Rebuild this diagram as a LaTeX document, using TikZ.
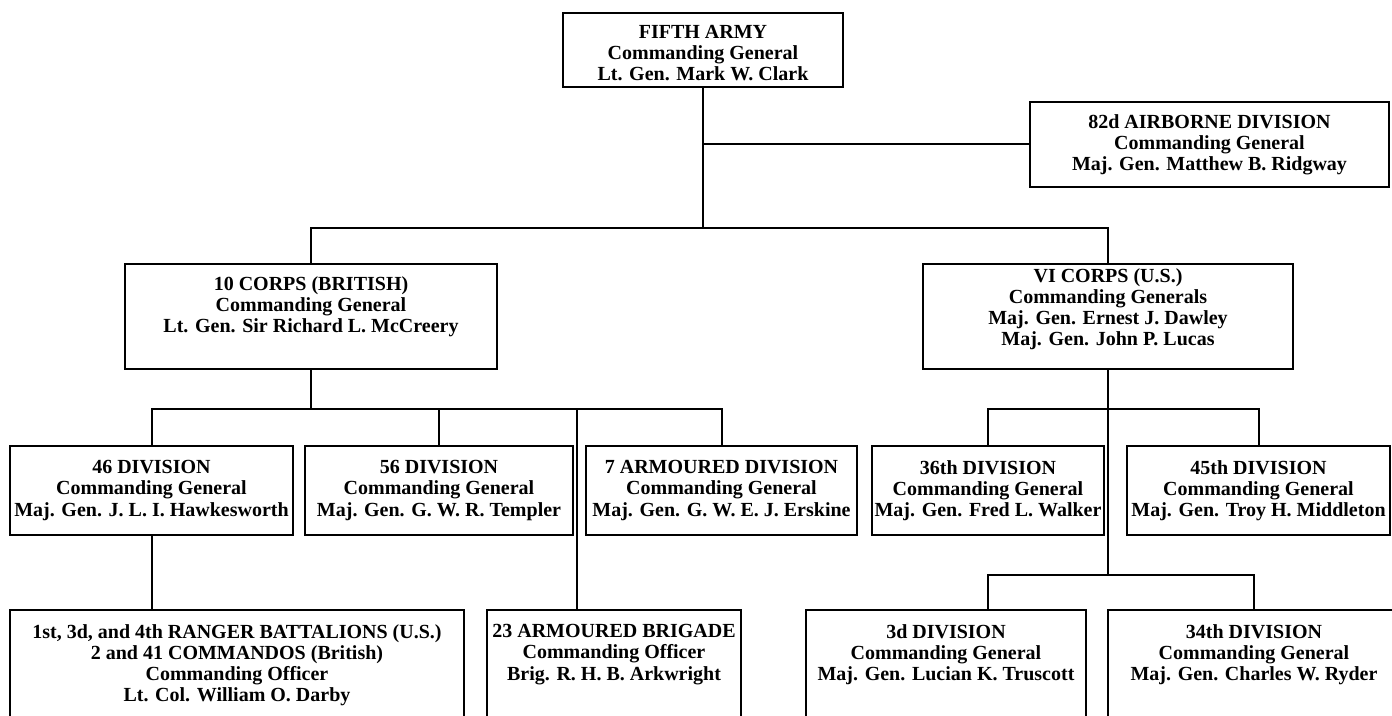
\documentclass[tikz,border=0pt]{standalone}
\usepackage{fontspec}
\setmainfont{Liberation Serif}
\usetikzlibrary{fit}

\tikzset{
  unit/.style={draw, line width=1pt, inner sep=0pt},
  txt/.style={align=center, inner sep=0pt, font=\fontsize{10}{10.6}\selectfont\bfseries},
  link/.style={line width=1pt}
}

\begin{document}
\begin{tikzpicture}[x=0.5pt,y=-0.5pt]
  \useasboundingbox (0,0) rectangle (1392,716);
  \fill[white] (0,0) rectangle (1392,716);
  \clip (0,0) rectangle (1392,716);

  % boxes
  \node[unit, fit={(563,13) (843,87)}] (fifth) {};
  \node[unit, fit={(1030,102) (1389,187)}] (airborne) {};
  \node[unit, fit={(125,264) (497,369)}] (corpsA) {};
  \node[unit, fit={(923,264) (1293,369)}] (corpsB) {};
  \node[unit, fit={(10,446) (293,535)}] (d46) {};
  \node[unit, fit={(305,446) (573,535)}] (d56) {};
  \node[unit, fit={(586,446) (857,535)}] (d7) {};
  \node[unit, fit={(872,446) (1104,535)}] (d36) {};
  \node[unit, fit={(1127,446) (1390,535)}] (d45) {};
  \node[unit, fit={(10,610) (464,740)}] (ranger) {};
  \node[unit, fit={(487,610) (741,740)}] (brig) {};
  \node[unit, fit={(806,610) (1086,740)}] (d3) {};
  \node[unit, fit={(1108,610) (1400,740)}] (d34) {};

  % texts
  \node[txt] (fiftht) at (703,53) {FIFTH ARMY\\Commanding General\\Lt. Gen. Mark W. Clark};
  \node[txt] (airbornet) at (airborne) {82d AIRBORNE DIVISION\\Commanding General\\Maj. Gen. Matthew B. Ridgway};
  \node[txt, anchor=north] (corpsAt) at (311,276) {10 CORPS (BRITISH)\\Commanding General\\Lt. Gen. Sir Richard L. McCreery};
  \node[txt, anchor=north] (corpsBt) at (1108,268) {VI CORPS (U.S.)\\Commanding Generals\\Maj. Gen. Ernest J. Dawley\\Maj. Gen. John P. Lucas};
  \node[txt] (d46t) at (d46) {46 DIVISION\\Commanding General\\Maj. Gen. J. L. I. Hawkesworth};
  \node[txt] (d56t) at (d56) {56 DIVISION\\Commanding General\\Maj. Gen. G. W. R. Templer};
  \node[txt] (d7t) at (d7) {7 ARMOURED DIVISION\\Commanding General\\Maj. Gen. G. W. E. J. Erskine};
  \node[txt] (d36t) at (d36) {36th DIVISION\\Commanding General\\Maj. Gen. Fred L. Walker};
  \node[txt] (d45t) at (d45) {45th DIVISION\\Commanding General\\Maj. Gen. Troy H. Middleton};
  \node[txt, anchor=north] (rangert) at (237,624) {1st, 3d, and 4th RANGER BATTALIONS (U.S.)\\2 and 41 COMMANDOS (British)\\Commanding Officer\\Lt. Col. William O. Darby};
  \node[txt, anchor=north] (brigt) at (614,624) {23 ARMOURED BRIGADE\\Commanding Officer\\Brig. R. H. B. Arkwright};
  \node[txt, anchor=north] (d3t) at (946,624) {3d DIVISION\\Commanding General\\Maj. Gen. Lucian K. Truscott};
  \node[txt, anchor=north] (d34t) at (1254,624) {34th DIVISION\\Commanding General\\Maj. Gen. Charles W. Ryder};

  % junctions
  \coordinate (armyjoin) at (703,228);
  \coordinate (xjoin) at (311,409);
  \coordinate (brigjoin) at (577,409);
  \coordinate (vijoin) at (1108,409);
  \coordinate (lowjoin) at (1108,575);

  % connectors
  \draw[link] (fifth.south) -- (armyjoin);
  \draw[link] (airborne.west) -- (airborne.west -| fifth.south);
  \draw[link] (corpsA.north) |- (armyjoin) -| (corpsB.north);
  \draw[link] (corpsA.south) -- (xjoin);
  \draw[link] (d46.north) |- (xjoin) -| (d7.north);
  \draw[link] (d56.north) -- (d56.north |- xjoin);
  \draw[link] (brigjoin) -- (brigjoin |- brig.north);
  \draw[link] (d46.south) -- (d46.south |- ranger.north);
  \draw[link] (corpsB.south) -- (lowjoin);
  \draw[link] (d36.north) |- (vijoin) -| (d45.north);
  \draw[link] (d3.north -| d36.north) |- (lowjoin) -| (d34.north);
\end{tikzpicture}
\end{document}
